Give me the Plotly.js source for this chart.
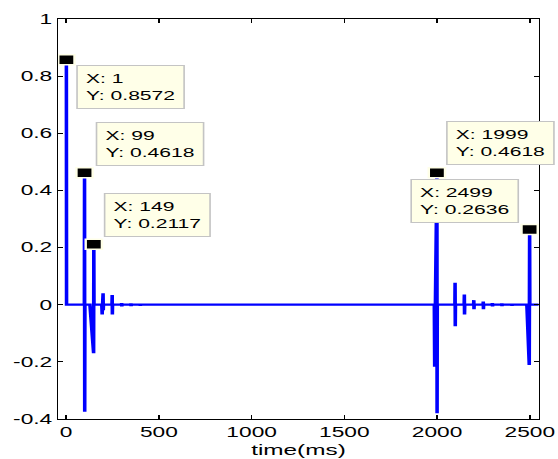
<!DOCTYPE html>
<html>
<head>
<meta charset="utf-8">
<script src="https://cdn.plot.ly/plotly-3.0.1.min.js"></script>
<style>
  html, body { margin: 0; padding: 0; background: #ffffff; overflow: hidden; }
  #wrap { width: 558px; height: 459px; overflow: hidden; }
  #chart { width: 344px; height: 459px; transform: scaleX(1.62209); transform-origin: 0 0; }
</style>
</head>
<body>
<div id="wrap"><div id="chart"></div></div>
<script>
// ---- data ----
const timeMs = [1, 2, 98, 99, 100, 101, 128, 148, 149, 150,
  192, 193, 194, 195, 198, 199, 200, 201,
  247, 248, 249, 250, 298, 299, 300, 301,
  348, 349, 350, 351, 398, 399, 400, 401,
  457, 458, 459, 460,
  1985, 1987, 1999, 2000, 2001,
  2096, 2097, 2098, 2099, 2146, 2147, 2148, 2149,
  2197, 2198, 2199, 2200, 2248, 2249, 2250, 2251,
  2297, 2298, 2299, 2300, 2348, 2349, 2350, 2351,
  2402, 2403, 2404, 2405,
  2484, 2497, 2499, 2500, 2560];
const amplitude = [0.8572, 0, 0, 0.4618, -0.375, 0, 0, -0.17, 0.2117, 0,
  0, 0.019, -0.034, 0, 0, 0.040, -0.019, 0,
  0, 0.034, -0.034, 0, 0, 0.006, -0.006, 0,
  0, 0.005, -0.005, 0, 0, 0.004, -0.004, 0,
  0, 0.003, -0.003, 0,
  0, -0.217, 0.4618, -0.38, 0,
  0, 0.077, -0.075, 0, 0, 0.036, -0.034, 0,
  0, 0.016, -0.016, 0, 0, 0.011, -0.016, 0,
  0, 0.006, -0.006, 0, 0, 0.005, -0.005, 0,
  0, 0.004, -0.004, 0,
  0, -0.211, 0.2636, 0, 0];

const tipX = [1, 99, 149, 1999, 2499];
const tipY = [0.8572, 0.4618, 0.2117, 0.4618, 0.2636];

const xTickVals = [0, 500, 1000, 1500, 2000, 2500];
const xTickText = ['0', '500', '1000', '1500', '2000', '2500'];
const yTickVals = [-0.4, -0.2, 0, 0.2, 0.4, 0.6, 0.8, 1];
const yTickText = ['-0.4', '-0.2', '0', '0.2', '0.4', '0.6', '0.8', '1'];
const xLabel = 'time(ms)';

// ---- datatip placement (styling only) ----
const tipAnchorX = ['left', 'left', 'left', 'left', 'right'];
const tipAnchorY = ['top', 'bottom', 'bottom', 'bottom', 'bottom'];
const tipShiftX = [6.0, 6.5, 6.6, 6.1, -7.0];
const tipShiftY = [-5.2, 7.1, 6.9, 7.8, 6.7];

const FONT = 'Liberation Sans, Arial, Helvetica, sans-serif';

const traces = [
  {
    x: timeMs, y: amplitude, type: 'scatter', mode: 'lines',
    line: { color: '#0000ff', width: 2.2 },
    hoverinfo: 'skip'
  },
  {
    x: tipX, y: tipY, type: 'scatter', mode: 'markers',
    marker: { symbol: 'square', size: 10, color: '#000000',
              line: { color: '#ffffe8', width: 1.5 } },
    cliponaxis: false, hoverinfo: 'skip'
  }
];

const annotations = tipX.map((x, i) => ({
  x: x, y: tipY[i], xref: 'x', yref: 'y',
  text: 'X: ' + x + '<br>Y: ' + tipY[i].toFixed(4),
  showarrow: false,
  xanchor: tipAnchorX[i], yanchor: tipAnchorY[i],
  xshift: tipShiftX[i], yshift: tipShiftY[i],
  align: 'left',
  bgcolor: '#ffffe8', bordercolor: '#c4c4c4', borderwidth: 1, borderpad: 5,
  font: { family: FONT, size: 13, color: '#000000' }
}));

const layout = {
  width: 344, height: 459,
  margin: { l: 36, r: 12, t: 19, b: 40, pad: 0 },
  paper_bgcolor: '#ffffff', plot_bgcolor: '#ffffff',
  showlegend: false,
  font: { family: FONT, size: 14, color: '#000000' },
  xaxis: {
    range: [-42, 2547], autorange: false,
    tickvals: xTickVals, ticktext: xTickText,
    ticks: 'inside', ticklen: 4, tickwidth: 1, tickcolor: '#000000',
    showline: true, linecolor: '#000000', linewidth: 1, mirror: 'ticks',
    showgrid: false, zeroline: false,
    tickfont: { family: FONT, size: 14, color: '#000000' },
    title: { text: xLabel, font: { family: FONT, size: 15, color: '#000000' }, standoff: 5 },
    automargin: false
  },
  yaxis: {
    range: [-0.4, 1], autorange: false,
    tickvals: yTickVals, ticktext: yTickText,
    ticks: 'inside', ticklen: 3, tickwidth: 1, tickcolor: '#000000',
    showline: true, linecolor: '#000000', linewidth: 1, mirror: 'ticks',
    showgrid: false, zeroline: false,
    tickfont: { family: FONT, size: 14, color: '#000000' },
    automargin: false
  },
  annotations: annotations
};

Plotly.newPlot('chart', traces, layout, { staticPlot: true, displayModeBar: false });
</script>
</body>
</html>
